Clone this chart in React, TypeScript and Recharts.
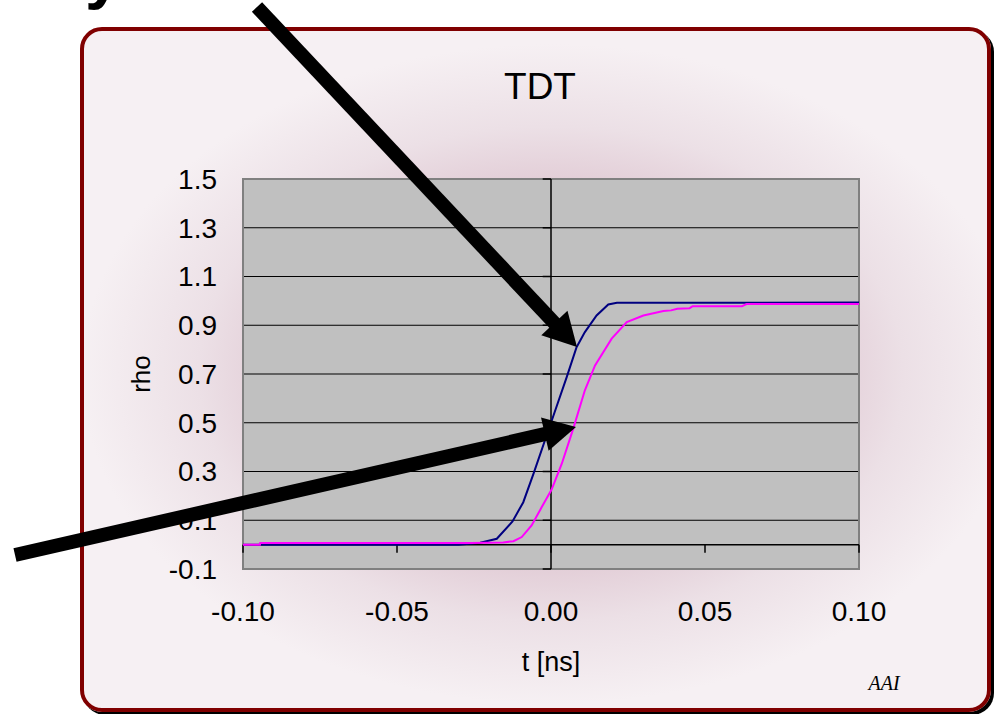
import {
    CartesianGrid,
    Line,
    LineChart,
    ReferenceArea,
    ReferenceLine,
    XAxis,
    YAxis,
} from "recharts";

// tick labels
const xTicks = [-0.1, -0.05, 0, 0.05, 0.1];
const yTicks = [-0.1, 0.1, 0.3, 0.5, 0.7, 0.9, 1.1, 1.3, 1.5];

// blue trace (time in ns, rho)
const blueT = [-0.1, -0.03, -0.023, -0.0176, -0.0125, -0.009, -0.0057, 0.0, 0.0051, 0.0083, 0.011, 0.0148, 0.0186, 0.0214, 0.1];
const blueRho = [0.0, 0.0, 0.008, 0.024, 0.095, 0.174, 0.29, 0.5, 0.687, 0.81, 0.872, 0.94, 0.985, 0.992, 0.993];

// magenta trace
const pinkT = [-0.1, -0.0945, -0.0944, -0.026, -0.0155, -0.0122, -0.0095, -0.0063, -0.003, 0.0002, 0.0035, 0.0072, 0.011, 0.0143, 0.0197, 0.0246, 0.03, 0.0365, 0.039, 0.041, 0.045, 0.046, 0.062, 0.0635, 0.1];
const pinkRho = [0.0, 0.0, 0.007, 0.007, 0.009, 0.014, 0.031, 0.079, 0.154, 0.226, 0.332, 0.475, 0.633, 0.735, 0.845, 0.913, 0.94, 0.958, 0.961, 0.968, 0.97, 0.978, 0.978, 0.987, 0.987];

const blueData = blueT.map((t, i) => ({ t, rho: blueRho[i] }));
const pinkData = pinkT.map((t, i) => ({ t, rho: pinkRho[i] }));

const font = "'Liberation Sans', Arial, sans-serif";

// annotation arrow: shaft + triangular head
function Arrow({ tail, tip, w, headLen, headHalf }: any) {
    const dx = tip[0] - tail[0];
    const dy = tip[1] - tail[1];
    const len = Math.sqrt(dx * dx + dy * dy);
    const ux = dx / len;
    const uy = dy / len;
    const bx = tip[0] - ux * headLen;
    const by = tip[1] - uy * headLen;
    const pts = [
        [tip[0], tip[1]],
        [bx - uy * headHalf, by + ux * headHalf],
        [bx + uy * headHalf, by - ux * headHalf],
    ]
        .map((p) => p.join(","))
        .join(" ");
    return (
        <g>
            <line
                x1={tail[0]}
                y1={tail[1]}
                x2={bx + ux * 2}
                y2={by + uy * 2}
                stroke="#000"
                strokeWidth={w}
            />
            <polygon points={pts} fill="#000" />
        </g>
    );
}

export default function App() {
    return (
        <div
            style={{
                position: "absolute",
                left: 0,
                top: 0,
                width: 996,
                height: 714,
                overflow: "hidden",
                background: "#fff",
                fontFamily: font,
            }}
        >
            <div
                style={{
                    position: "absolute",
                    left: 80,
                    top: 27,
                    width: 911,
                    height: 685,
                    boxSizing: "border-box",
                    border: "4px solid #800000",
                    borderRadius: 22,
                    boxShadow: "3px 3px 0 #000",
                    background:
                        "radial-gradient(ellipse 470px 330px at 467px 343px, #d7b9c6 0%, #dec5d0 50%, #ece0e6 75%, #f6f0f3 100%)",
                }}
            />
            <div style={{ position: "absolute", left: 0, top: 0 }}>
                <LineChart
                    width={996}
                    height={714}
                    margin={{ top: 179, right: 137, bottom: 100, left: 183 }}
                >
                    <CartesianGrid
                        vertical={false}
                        stroke="#000"
                        fill="#C0C0C0"
                        fillOpacity={1}
                    />
                    <XAxis
                        type="number"
                        dataKey="t"
                        domain={[-0.1, 0.1]}
                        ticks={xTicks}
                        tickFormatter={(v: number) => v.toFixed(2)}
                        axisLine={false}
                        tickLine={false}
                        tickSize={0}
                        tickMargin={32}
                        height={45}
                        allowDataOverflow
                        tick={{ fill: "#000", fontSize: 28, fontFamily: font }}
                    />
                    <YAxis
                        type="number"
                        domain={[-0.1, 1.5]}
                        ticks={yTicks}
                        tickFormatter={(v: number) => v.toFixed(1)}
                        axisLine={false}
                        tickLine={false}
                        tickSize={0}
                        tickMargin={26}
                        width={60}
                        allowDataOverflow
                        tick={{ fill: "#000", fontSize: 28, fontFamily: font }}
                    />
                    <ReferenceLine x={0} stroke="#000" strokeWidth={1.5} />
                    <ReferenceLine y={0} stroke="#000" strokeWidth={1.5} />
                    {xTicks.map((x) => (
                        <ReferenceLine
                            key={"xt" + x}
                            segment={[
                                { x, y: 0 },
                                { x, y: -0.033 },
                            ]}
                            stroke="#000"
                            strokeWidth={1.5}
                        />
                    ))}
                    {yTicks.map((y) => (
                        <ReferenceLine
                            key={"yt" + y}
                            segment={[
                                { x: -0.0027, y },
                                { x: 0, y },
                            ]}
                            stroke="#000"
                            strokeWidth={1.5}
                        />
                    ))}
                    <ReferenceArea
                        x1={-0.1}
                        x2={0.1}
                        y1={-0.1}
                        y2={1.5}
                        fill="none"
                        fillOpacity={0}
                        stroke="#808080"
                        strokeWidth={2}
                    />
                    <Line
                        data={blueData}
                        dataKey="rho"
                        type="linear"
                        stroke="#000080"
                        strokeWidth={2}
                        dot={false}
                        isAnimationActive={false}
                    />
                    <Line
                        data={pinkData}
                        dataKey="rho"
                        type="linear"
                        stroke="#FF00FF"
                        strokeWidth={2}
                        dot={false}
                        isAnimationActive={false}
                    />
                </LineChart>
            </div>
            <svg
                width={996}
                height={714}
                style={{ position: "absolute", left: 0, top: 0, pointerEvents: "none" }}
            >
                <text x={540} y={99} textAnchor="middle" fontSize={37} fontFamily={font} fill="#000">
                    TDT
                </text>
                <text
                    x={150}
                    y={374}
                    textAnchor="middle"
                    fontSize={26}
                    fontFamily={font}
                    fill="#000"
                    transform="rotate(-90 150 374)"
                >
                    rho
                </text>
                <text x={551} y={671} textAnchor="middle" fontSize={27} fontFamily={font} fill="#000">
                    t [ns]
                </text>
                <text
                    x={884}
                    y={690}
                    textAnchor="middle"
                    fontSize={20}
                    fontStyle="italic"
                    fontFamily="'Liberation Serif', 'Times New Roman', serif"
                    fill="#000"
                >
                    AAI
                </text>
                <text x={85} y={-4} fontSize={66} fontWeight="bold" fontFamily={font} fill="#000">
                    y
                </text>
                <Arrow tail={[257, 7]} tip={[577, 347]} w={14} headLen={33} headHalf={18} />
                <Arrow tail={[15, 555]} tip={[576, 427]} w={14} headLen={32} headHalf={17} />
            </svg>
        </div>
    );
}
